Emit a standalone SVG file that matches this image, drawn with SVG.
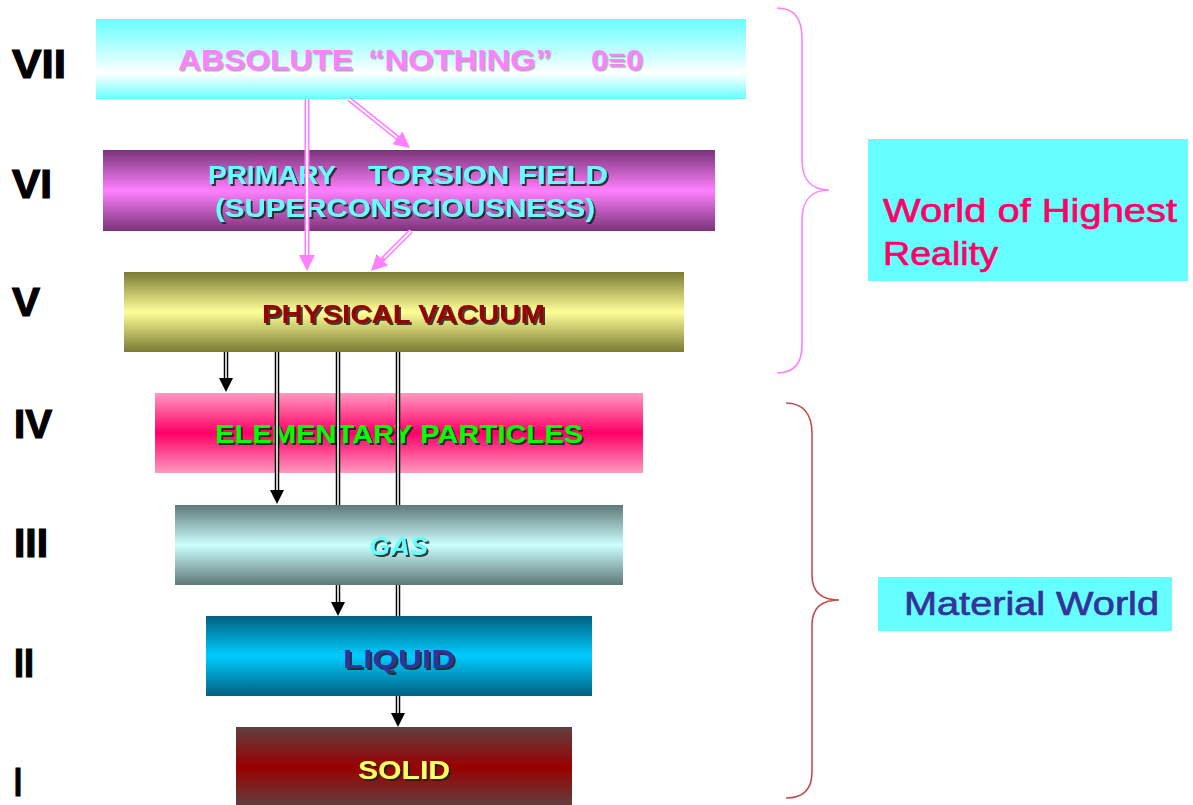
<svg xmlns="http://www.w3.org/2000/svg" width="1193" height="805" viewBox="0 0 1193 805">
<style>
.num{font-family:"Liberation Sans",Arial,sans-serif;font-weight:bold;font-size:40px;fill:#000;stroke:#000;stroke-width:1.2}
.lbl{font-family:"Liberation Sans",Arial,sans-serif;font-weight:bold;font-size:26px}
.side{font-family:"Liberation Sans",Arial,sans-serif;font-size:34px;stroke-width:0.7}
.bo{fill:none;stroke:#000;stroke-width:4.5}
.bi{fill:none;stroke:#fff;stroke-width:1.6}
.po{fill:none;stroke:#ff80ff;stroke-width:5}
.pi{fill:none;stroke:#fff;stroke-width:1.8}
.bh{fill:#000}
.ph{fill:#ff80ff}
</style>
<defs>
<linearGradient id="g7" x1="0" y1="0" x2="0" y2="1"><stop offset="0" stop-color="#66ffff"/><stop offset="0.68" stop-color="#ffffff"/><stop offset="1" stop-color="#66ffff"/></linearGradient>
<linearGradient id="g6" x1="0" y1="0" x2="0" y2="1"><stop offset="0" stop-color="#7a3378"/><stop offset="0.5" stop-color="#ff80ff"/><stop offset="1" stop-color="#7a3378"/></linearGradient>
<linearGradient id="g5" x1="0" y1="0" x2="0" y2="1"><stop offset="0" stop-color="#7a7a33"/><stop offset="0.5" stop-color="#ffff99"/><stop offset="1" stop-color="#7a7a33"/></linearGradient>
<linearGradient id="g4" x1="0" y1="0" x2="0" y2="1"><stop offset="0" stop-color="#ff99c0"/><stop offset="0.5" stop-color="#ff0066"/><stop offset="1" stop-color="#ff99c0"/></linearGradient>
<linearGradient id="g3" x1="0" y1="0" x2="0" y2="1"><stop offset="0" stop-color="#5f7878"/><stop offset="0.5" stop-color="#ccffff"/><stop offset="1" stop-color="#5f7878"/></linearGradient>
<linearGradient id="g2" x1="0" y1="0" x2="0" y2="1"><stop offset="0" stop-color="#006080"/><stop offset="0.5" stop-color="#00ccff"/><stop offset="1" stop-color="#006080"/></linearGradient>
<linearGradient id="g1" x1="0" y1="0" x2="0" y2="1"><stop offset="0" stop-color="#604040"/><stop offset="0.5" stop-color="#990000"/><stop offset="1" stop-color="#604040"/></linearGradient>
<filter id="sh" x="-5%" y="-20%" width="110%" height="140%"><feDropShadow dx="2" dy="2" stdDeviation="0" flood-color="#222" flood-opacity="0.85"/></filter>
<filter id="shl" x="-5%" y="-20%" width="110%" height="140%"><feDropShadow dx="1.5" dy="1.5" stdDeviation="0" flood-color="#999" flood-opacity="0.8"/></filter>
</defs>
<rect width="1193" height="805" fill="#fff"/>

<g id="numerals">
<text class="num" x="12" y="78" textLength="54" lengthAdjust="spacingAndGlyphs">VII</text>
<text class="num" x="12" y="198" textLength="40" lengthAdjust="spacingAndGlyphs">VI</text>
<text class="num" x="12" y="316" textLength="28" lengthAdjust="spacingAndGlyphs">V</text>
<text class="num" x="14" y="438" textLength="38" lengthAdjust="spacingAndGlyphs">IV</text>
<text class="num" x="14" y="557" textLength="34" lengthAdjust="spacingAndGlyphs">III</text>
<text class="num" x="14" y="677" textLength="20" lengthAdjust="spacingAndGlyphs">II</text>
<text class="num" x="14" y="796" textLength="8" lengthAdjust="spacingAndGlyphs">I</text>
</g>

<g id="node7">
<rect x="96" y="19" width="650" height="80" fill="url(#g7)"/>
<g class="lbl" fill="#ff80ff" filter="url(#shl)" style="font-size:30px">
<text x="178" y="70" textLength="175" lengthAdjust="spacingAndGlyphs">ABSOLUTE</text>
<text x="368" y="70" textLength="184" lengthAdjust="spacingAndGlyphs">“NOTHING”</text>
<text x="591" y="70" textLength="52" lengthAdjust="spacingAndGlyphs">0≡0</text>
</g>
</g>

<g id="node6">
<rect x="103" y="150" width="612" height="81" fill="url(#g6)"/>
<g class="lbl" fill="#66ffff" filter="url(#sh)">
<text x="208" y="184" textLength="128" lengthAdjust="spacingAndGlyphs">PRIMARY</text>
<text x="368" y="184" textLength="240" lengthAdjust="spacingAndGlyphs">TORSION FIELD</text>
<text x="215" y="217" textLength="380" lengthAdjust="spacingAndGlyphs">(SUPERCONSCIOUSNESS)</text>
</g>
</g>

<g id="node5">
<rect x="124" y="272" width="560" height="80" fill="url(#g5)"/>
<text class="lbl" fill="#990000" filter="url(#sh)" x="262" y="323" textLength="283" lengthAdjust="spacingAndGlyphs">PHYSICAL VACUUM</text>
</g>

<g id="node4">
<rect x="155" y="393" width="488" height="80" fill="url(#g4)"/>
<text class="lbl" fill="#00ff00" filter="url(#sh)" x="215" y="443" textLength="368" lengthAdjust="spacingAndGlyphs">ELEMENTARY PARTICLES</text>
</g>

<g id="connectors">
<path class="po" d="M307 99 V257"/><path class="pi" d="M307 99 V255"/>
<polygon class="ph" points="299,255 315,255 307,271"/>
<path class="po" d="M349 99 L399 139"/><path class="pi" d="M349 99 L397 137.5"/>
<polygon class="ph" points="392.5,144.2 402.5,131.8 410,148"/>
<path class="po" d="M411 231 L382 260"/><path class="pi" d="M411 231 L384 258"/>
<polygon class="ph" points="388,265.4 376.6,254 371,271"/>

<path class="bo" d="M226 352 V380"/><path class="bi" d="M226 352 V378"/>
<polygon class="bh" points="219,378 233,378 226,392"/>
<path class="bo" d="M277 352 V492"/><path class="bi" d="M277 352 V490"/>
<polygon class="bh" points="270,490 284,490 277,504"/>
<path class="bo" d="M338 352 V604"/><path class="bi" d="M338 352 V602"/>
<polygon class="bh" points="331,602 345,602 338,616"/>
<path class="bo" d="M398 352 V715"/><path class="bi" d="M398 352 V713"/>
<polygon class="bh" points="391,713 405,713 398,727"/>
</g>

<g id="node3">
<rect x="175" y="505" width="448" height="80" fill="url(#g3)"/>
<text class="lbl" fill="#66ffff" filter="url(#sh)" font-style="italic" x="369" y="555" textLength="59" lengthAdjust="spacingAndGlyphs">GAS</text>
</g>

<g id="node2">
<rect x="206" y="616" width="386" height="80" fill="url(#g2)"/>
<text class="lbl" fill="#333399" filter="url(#sh)" x="343" y="668" textLength="112" lengthAdjust="spacingAndGlyphs">LIQUID</text>
</g>

<g id="node1">
<rect x="236" y="727" width="336" height="80" fill="url(#g1)"/>
<text class="lbl" fill="#ffff66" filter="url(#sh)" x="358" y="779" textLength="92" lengthAdjust="spacingAndGlyphs">SOLID</text>
</g>

<g id="brace-highest">
<path d="M777 8 C793 8 802 18 802 38 L802 160 C802 180 812 190 829 190 C812 190 802 200 802 220 L802 345 C802 365 793 373 777 373" fill="none" stroke="#ff80ff" stroke-width="1.6"/>
</g>
<g id="label-highest">
<rect x="868" y="139" width="320" height="142" fill="#66ffff"/>
<text class="side" fill="#ff0066" stroke="#ff0066" x="883" y="222" textLength="294" lengthAdjust="spacingAndGlyphs">World of Highest</text>
<text class="side" fill="#ff0066" stroke="#ff0066" x="883" y="265" textLength="115" lengthAdjust="spacingAndGlyphs">Reality</text>
</g>

<g id="brace-material">
<path d="M786 403 C802 403 812 413 812 433 L812 575 C812 592 822 600 839 600 C822 600 812 608 812 625 L812 772 C812 790 802 798 786 798" fill="none" stroke="#c05050" stroke-width="1.6"/>
</g>
<g id="label-material">
<rect x="878" y="577" width="294" height="54" fill="#66ffff"/>
<text class="side" fill="#333399" stroke="#333399" x="904" y="615" textLength="255" lengthAdjust="spacingAndGlyphs">Material World</text>
</g>
</svg>
